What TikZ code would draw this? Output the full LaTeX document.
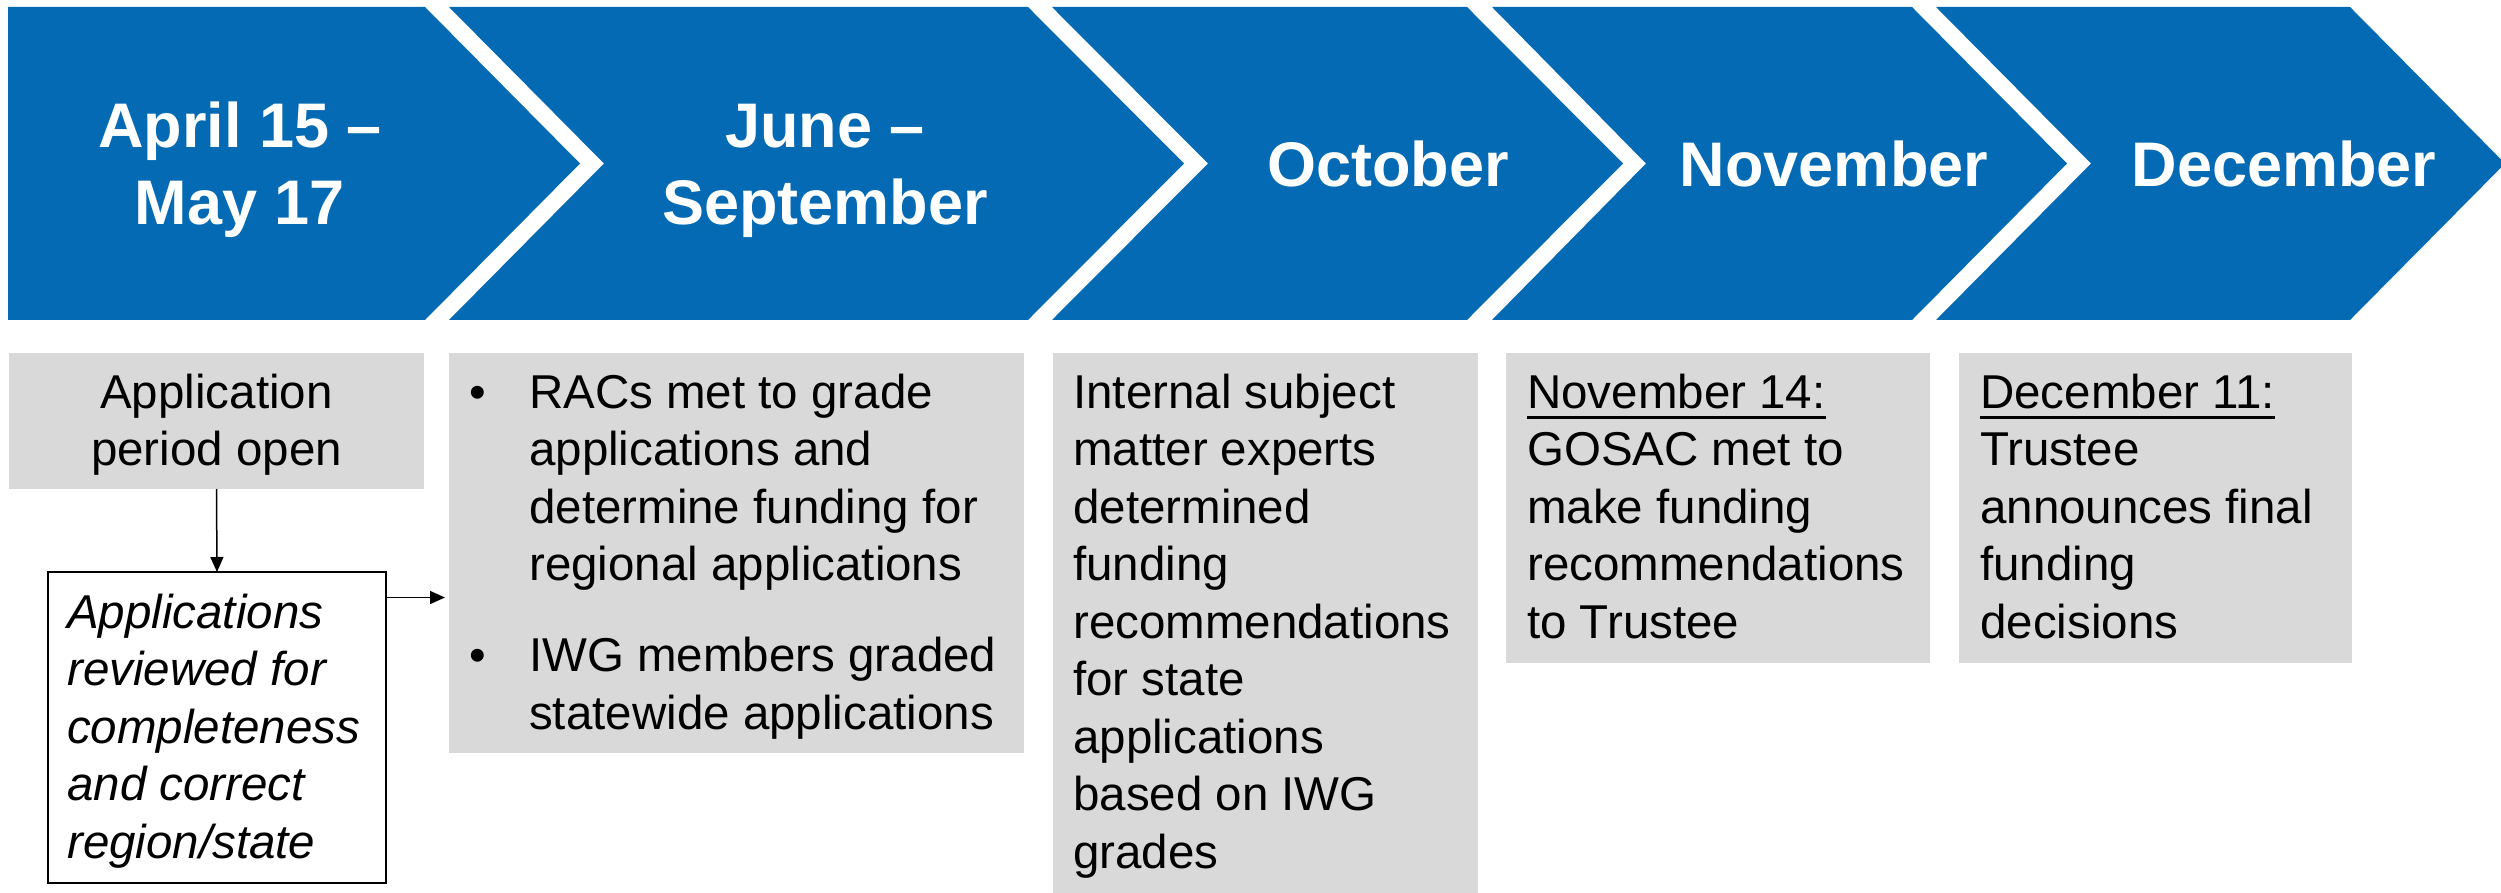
\documentclass[tikz,border=0pt]{standalone}
\usepackage{fontspec}
\setmainfont{Liberation Sans}
\usetikzlibrary{arrows.meta,calc}
\definecolor{chevblue}{RGB}{4,106,180}
\definecolor{boxgray}{RGB}{217,217,217}
\newcommand\myul[1]{\setbox0\hbox{#1}\rlap{\rule[-10.5pt]{\wd0}{3pt}}\box0}
\begin{document}
\begin{tikzpicture}[x=1pt,y=-1pt,
  chev/.style={fill=chevblue},
  head/.style={text=white, font=\fontsize{63}{77}\selectfont\bfseries, align=center, anchor=base, inner sep=0},
  gbox/.style={fill=boxgray, draw=none, anchor=north west, inner sep=0, outer sep=0},
  wbox/.style={fill=white, draw=black, line width=2.5pt, anchor=north west, inner sep=0, outer sep=0},
  body/.style={font=\fontsize{47.5}{57.5}\selectfont, inner sep=0, align=left, anchor=base west},
  bodyc/.style={font=\fontsize{47.5}{57.5}\selectfont, inner sep=0, align=center, anchor=base},
  bodyi/.style={font=\fontsize{47.5}{57.5}\selectfont\itshape, inner sep=0, align=left, anchor=base west},
  arr/.style={-{Triangle[length=15pt,width=13pt]}, line width=1.5pt, draw=black}]
\useasboundingbox (0,0) rectangle (2501,893);
\clip (0,0) rectangle (2501,893);
\fill[white] (0,0) rectangle (2501,893);
% chevrons
\fill[chev] (8,7) -- (425,7) -- (580,163.5) -- (425,320) -- (8,320) -- cycle;
\fill[chev] (449,7) -- (1028,7) -- (1184,163.5) -- (1028,320) -- (449,320) -- (604,163.5) -- cycle;
\fill[chev] (1052,7) -- (1467,7) -- (1623,163.5) -- (1467,320) -- (1052,320) -- (1208,163.5) -- cycle;
\fill[chev] (1492,7) -- (1912,7) -- (2067,163.5) -- (1912,320) -- (1492,320) -- (1646,163.5) -- cycle;
\fill[chev] (1936,7) -- (2350,7) -- (2505,163.5) -- (2350,320) -- (1936,320) -- (2091,163.5) -- cycle;
% headings (anchor base = baseline of last line)
\node[head] (h1) at (240,225) {April 15 –\\May 17};
\node[head] (h2) at (825,225) {June –\\September};
\node[head] (h3) at (1388,187) {October};
\node[head] (h4) at (1834,187) {November};
\node[head] (h5) at (2284,187) {December};
% boxes
\node[gbox, minimum width=415pt, minimum height=136pt] (b1) at (9,353) {};
\node[wbox, minimum width=338pt, minimum height=311pt] (wb) at (48,572) {};
\node[gbox, minimum width=575pt, minimum height=400pt] (b2) at (449,353) {};
\node[gbox, minimum width=425pt, minimum height=540pt] (b3) at (1053,353) {};
\node[gbox, minimum width=424pt, minimum height=310pt] (b4) at (1506,353) {};
\node[gbox, minimum width=393pt, minimum height=310pt] (b5) at (1959,353) {};
% texts (anchor base = baseline of last line)
\node[bodyc] (t1) at (216.5,465.5) {Application\\period open};
\node[bodyi] (tw) at (67,858) {Applications\\reviewed for\\completeness\\and correct\\region/state};
\node[body] (t2) at (469,729) {\makebox[60pt][l]{•}RACs met to grade\\
  \hspace*{60pt}applications and\\
  \hspace*{60pt}determine funding for\\
  \hspace*{60pt}regional applications\\[33.5pt]
  \makebox[60pt][l]{•}IWG members graded\\
  \hspace*{60pt}statewide applications};
\node[body] (t3) at (1073,868) {Internal subject\\matter experts\\determined\\funding\\recommendations\\for state\\applications\\based on IWG\\grades};
\node[body] (t4) at (1527,638) {\myul{November 14:}\\GOSAC met to\\make funding\\recommendations\\to Trustee};
\node[body] (t5) at (1980,638) {\myul{December 11:}\\Trustee\\announces final\\funding\\decisions};
% connectors
\draw[arr] (b1.south) -- (wb.north);
\draw[arr, shorten >=4pt] ([yshift=-25.5pt]wb.north east) -- ([yshift=-25.5pt]wb.north east -| b2.west);
\end{tikzpicture}
\end{document}
